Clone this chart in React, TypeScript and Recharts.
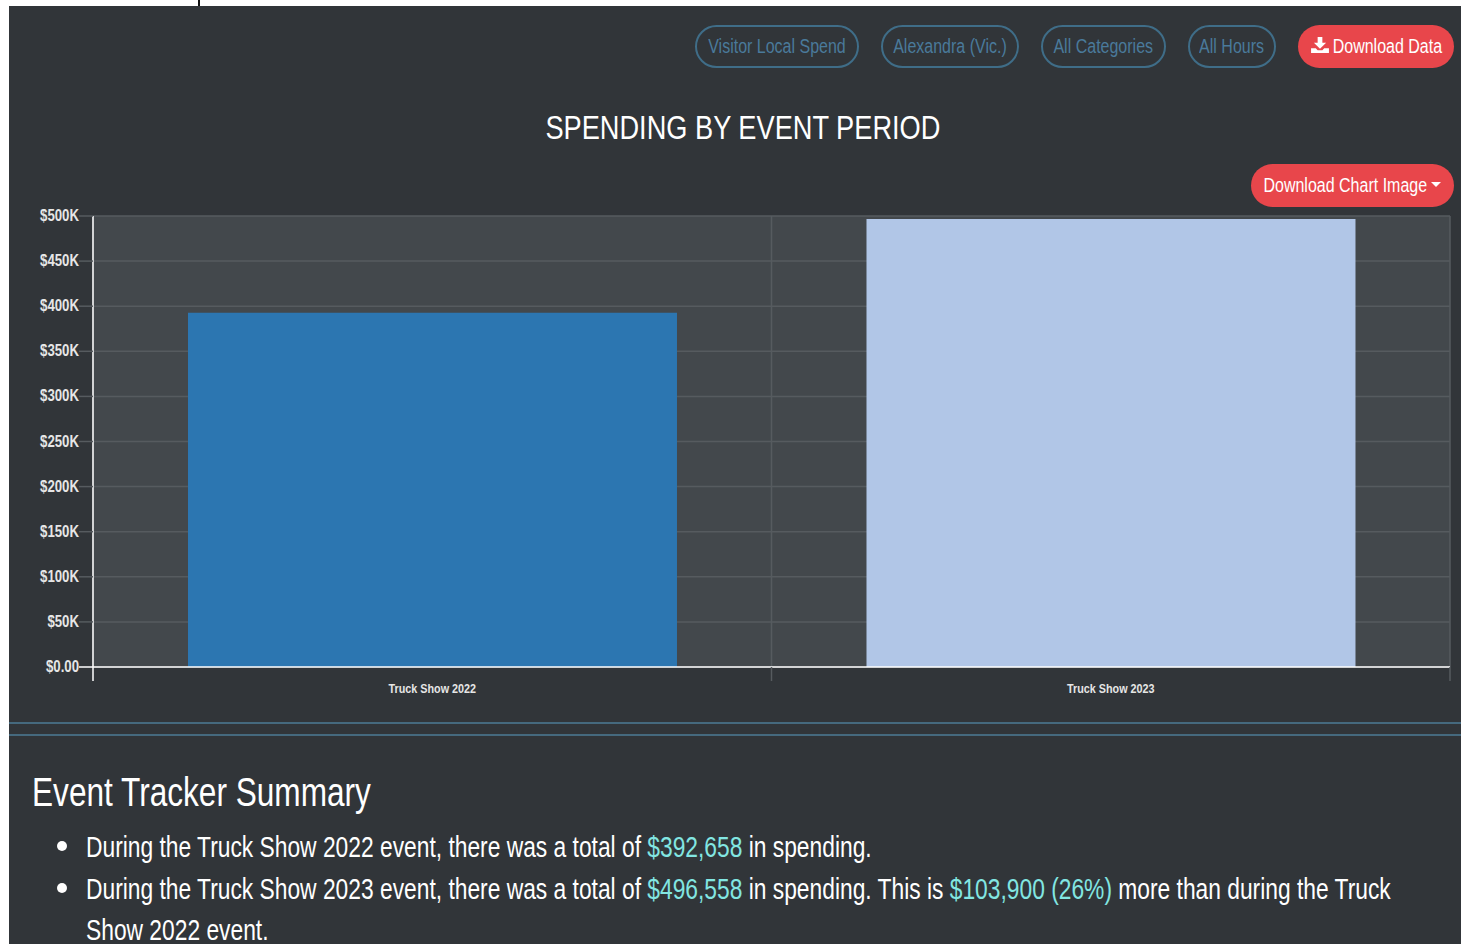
import { BarChart, Bar, XAxis, YAxis, CartesianGrid, Cell } from "recharts";

const categories = ["Truck Show 2022", "Truck Show 2023"];
const spending = [392658, 496558];
const barColors = ["#2c76b1", "#b1c6e7"];
const yTicks = [0, 50000, 100000, 150000, 200000, 250000, 300000, 350000, 400000, 450000, 500000];
// a keyless number axis runs over the data index, so 0.5 is the boundary between the two bands
const bandEdges = [0, 0.5, 1];
const filters = [
  { label: "Visitor Local Spend", left: 695, width: 164 },
  { label: "Alexandra (Vic.)", left: 881, width: 138 },
  { label: "All Categories", left: 1041, width: 125 },
  { label: "All Hours", left: 1188, width: 88 },
];

const data = categories.map((name, i) => ({ name, value: spending[i] }));

const FONT = '"Liberation Sans", Arial, sans-serif';
const GRID = "#565b5f";
const NARROW = 0.8; // the original face is a narrow one, none is installed

const money = (v: number) => (v === 0 ? "$0.00" : `$${v / 1000}K`);

function YTick({ x, y, payload }: any) {
  return (
    <g>
      <line
        x1={x}
        x2={x + 14}
        y1={y}
        y2={y}
        stroke={payload.value === 0 ? "#ffffff" : GRID}
        strokeWidth={1.5}
      />
      <text
        transform={`translate(${x},${y + 5}) scale(${NARROW},1)`}
        textAnchor="end"
        fill="#e6e6e6"
        fontFamily={FONT}
        fontWeight="bold"
        fontSize={16.5}
      >
        {money(payload.value)}
      </text>
    </g>
  );
}

function EdgeTick({ x, y, payload }: any) {
  return (
    <line
      x1={x}
      x2={x}
      y1={y - 6}
      y2={y + 8}
      stroke={payload.value === 0 ? "#ffffff" : GRID}
      strokeWidth={1.5}
    />
  );
}

function CategoryTick({ x, y, payload }: any) {
  return (
    <text
      transform={`translate(${x},${y + 6}) scale(${NARROW},1)`}
      textAnchor="middle"
      fill="#e6e6e6"
      fontFamily={FONT}
      fontWeight="bold"
      fontSize={13.5}
    >
      {payload.value}
    </text>
  );
}

function Squeezed({ children }: { children: React.ReactNode }) {
  return (
    <span style={{ flex: "none", whiteSpace: "nowrap", transform: `scaleX(${NARROW})` }}>{children}</span>
  );
}

const pillBase = {
  position: "absolute" as const,
  height: 43,
  boxSizing: "border-box" as const,
  borderRadius: 22,
  fontSize: 20,
  display: "flex",
  alignItems: "center",
  justifyContent: "center",
};

function Pill({ label, left, width }: { label: string; left: number; width: number }) {
  return (
    <div style={{ ...pillBase, left, width, top: 25, border: "2px solid #3f6d88", color: "#4a7a9b" }}>
      <Squeezed>{label}</Squeezed>
    </div>
  );
}

const redButton = { ...pillBase, background: "#e8464b", color: "#fff" };

const hi = { color: "#82e6e2" };

const squeezedBlock = {
  position: "absolute" as const,
  whiteSpace: "nowrap" as const,
  color: "#fff",
  transformOrigin: "left center",
  transform: "scaleX(0.786)",
};

const listLine = { ...squeezedBlock, left: 86, fontSize: 29, lineHeight: "26px", height: 26 };

const bullet = {
  position: "absolute" as const,
  left: 57,
  width: 10,
  height: 10,
  borderRadius: 5,
  background: "#fff",
};

export default function App() {
  return (
    <div
      style={{
        position: "absolute",
        left: 0,
        top: 0,
        width: 1461,
        height: 944,
        overflow: "hidden",
        background: "#fff",
        fontFamily: FONT,
      }}
    >
      <div style={{ position: "absolute", left: 198, top: 0, width: 2, height: 6, background: "#111" }} />
      <div style={{ position: "absolute", left: 9, top: 6, width: 1452, height: 938, background: "#313539" }} />

      {filters.map((f) => (
        <Pill key={f.label} {...f} />
      ))}
      <div style={{ ...redButton, left: 1298, top: 25, width: 156, paddingLeft: 22 }}>
        <svg width="18" height="16" viewBox="0 0 19 17" style={{ position: "absolute", left: 13, top: 12 }}>
          <path d="M7 0h5v6h4l-6.500 6.500L3 6h4z M0 12h5l2 2h5l2-2h5v5H0z" fill="#fff" />
        </svg>
        <Squeezed>Download Data</Squeezed>
      </div>
      <div style={{ ...redButton, left: 1251, top: 164, width: 203, paddingRight: 15 }}>
        <Squeezed>Download Chart Image</Squeezed>
        <span
          style={{
            position: "absolute",
            right: 13,
            top: 18,
            borderTop: "5px solid #fff",
            borderLeft: "5px solid transparent",
            borderRight: "5px solid transparent",
          }}
        />
      </div>

      <div
        style={{
          position: "absolute",
          left: 9,
          width: 1467,
          top: 106,
          height: 42,
          display: "flex",
          justifyContent: "center",
          alignItems: "center",
          color: "#fff",
          fontSize: 34,
        }}
      >
        <Squeezed>SPENDING BY EVENT PERIOD</Squeezed>
      </div>

      <div style={{ position: "absolute", left: 0, top: 200 }}>
        <BarChart
          width={1461}
          height={510}
          data={data}
          margin={{ top: 16, right: 11, bottom: 0, left: 0 }}
          barCategoryGap="14%"
        >
          <CartesianGrid xAxisId="edges" fill="#43484c" stroke={GRID} strokeWidth={1.5} />
          <XAxis
            xAxisId="edges"
            type="number"
            domain={[0, 1]}
            ticks={bandEdges}
            interval={0}
            height={14}
            axisLine={{ stroke: "#ffffff", strokeWidth: 1.5 }}
            tickLine={false}
            tickMargin={0}
            tick={<EdgeTick />}
          />
          <XAxis
            xAxisId="labels"
            dataKey="name"
            height={29}
            axisLine={false}
            tickLine={false}
            tickMargin={0}
            interval={0}
            tick={<CategoryTick />}
          />
          <YAxis
            width={93}
            domain={[0, 500000]}
            ticks={yTicks}
            interval={0}
            axisLine={{ stroke: "#ffffff", strokeWidth: 1.5 }}
            tickLine={false}
            tickMargin={8}
            tick={<YTick />}
          />
          <Bar xAxisId="labels" dataKey="value" isAnimationActive={false}>
            {data.map((d, i) => (
              <Cell key={d.name} fill={barColors[i]} />
            ))}
          </Bar>
        </BarChart>
      </div>

      <div style={{ position: "absolute", left: 9, right: 0, top: 722, height: 2, background: "#45697e" }} />
      <div style={{ position: "absolute", left: 9, right: 0, top: 734, height: 2, background: "#45697e" }} />

      <div style={{ ...squeezedBlock, left: 32, top: 768, fontSize: 40, lineHeight: "48px", transform: "scaleX(0.79)" }}>
        Event Tracker Summary
      </div>

      <div style={{ ...bullet, top: 841 }} />
      <div style={{ ...bullet, top: 883 }} />
      <div style={{ ...listLine, top: 834 }}>
        During the Truck Show 2022 event, there was a total of <span style={hi}>$392,658</span> in spending.
      </div>
      <div style={{ ...listLine, top: 876 }}>
        During the Truck Show 2023 event, there was a total of <span style={hi}>$496,558</span> in spending. This is{" "}
        <span style={hi}>$103,900 (26%)</span> more than during the Truck
      </div>
      <div style={{ ...listLine, top: 917 }}>Show 2022 event.</div>
    </div>
  );
}
